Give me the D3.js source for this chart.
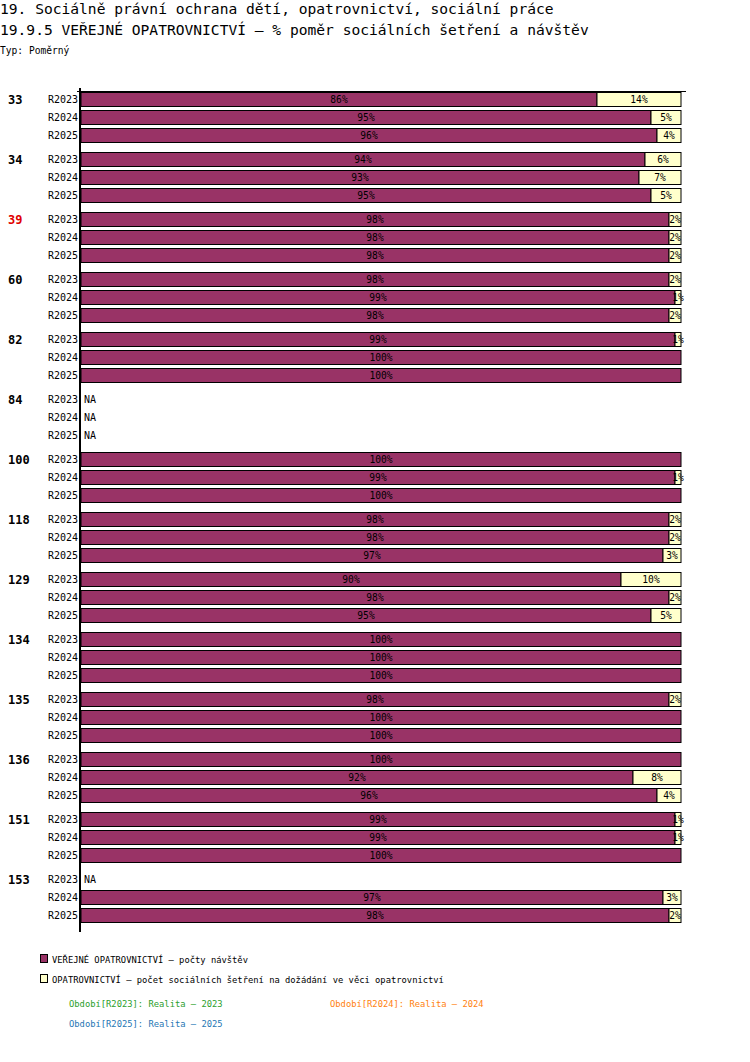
<!DOCTYPE html>
<html>
<head>
<meta charset="utf-8">
<script src="https://cdn.jsdelivr.net/npm/d3@7"></script>
<style>
body { margin: 0; background: #fff; }
text { font-family: "DejaVu Sans Mono", monospace; }
</style>
</head>
<body>
<div id="chart"></div>
<script>
// skupiny (obce) a obdobi
const groups = ["33", "34", "39", "60", "82", "84", "100", "118", "129", "134", "135", "136", "151", "153"];
const periods = ["R2023", "R2024", "R2025"];
const redGroups = ["39"];

// VEŘEJNÉ OPATROVNICTVÍ - počty návštěv (%), null = NA
const navstevy = [
    [86, 95, 96], [94, 93, 95], [98, 98, 98], [98, 99, 98], [99, 100, 100],
    [null, null, null], [100, 99, 100], [98, 98, 97], [90, 98, 95], [100, 100, 100],
    [98, 100, 100], [100, 92, 96], [99, 99, 100], [null, 97, 98]
];
// OPATROVNICTVÍ - počet sociálních šetření (%)
const setreni = [
    [14, 5, 4], [6, 7, 5], [2, 2, 2], [2, 1, 2], [1, 0, 0],
    [null, null, null], [0, 1, 0], [2, 2, 3], [10, 2, 5], [0, 0, 0],
    [2, 0, 0], [0, 8, 4], [1, 1, 0], [null, 3, 2]
];

const seriesNames = ["VEŘEJNÉ OPATROVNICTVÍ – počty návštěv",
    "OPATROVNICTVÍ – počet sociálních šetření na dožádání ve věci opatrovnictví"];
const colors = ["#993366", "#ffffcc"];
const periodLegend = [
    { text: "Období[R2023]: Realita – 2023", color: "#2ca02c" },
    { text: "Období[R2024]: Realita – 2024", color: "#ff7f0e" },
    { text: "Období[R2025]: Realita – 2025", color: "#1f77b4" }
];

const width = 750, height = 1062;
const svg = d3.select("#chart").append("svg")
    .attr("width", width)
    .attr("height", height);

// nadpisy
svg.append("text").attr("x", 0).attr("y", 14).attr("font-size", "14.6px")
    .text("19. Sociálně právní ochrana dětí, opatrovnictví, sociální práce");
svg.append("text").attr("x", 0).attr("y", 35).attr("font-size", "14.6px")
    .text("19.9.5 VEŘEJNÉ OPATROVNICTVÍ – % poměr sociálních šetření a návštěv");
svg.append("text").attr("x", 0).attr("y", 54).attr("font-size", "9.6px")
    .text("Typ: Poměrný");

const x = d3.scaleLinear().domain([0, 100]).range([81, 681]);
const groupY = d3.scaleBand().domain(groups).range([92, 92 + groups.length * 60]);
// krok 18 px, sloupec 15 px
const rowY = d3.scaleBand().domain(periods).range([0, 51]).paddingInner(3 / 18).paddingOuter(0);

// horni linka
svg.append("line").attr("x1", 77).attr("x2", 686).attr("y1", 91.5).attr("y2", 91.5)
    .attr("stroke", "#000").attr("stroke-width", 1);

groups.forEach((g, gi) => {
    const gy = groupY(g);
    svg.append("text")
        .attr("x", 8).attr("y", gy + rowY("R2023") + 12)
        .attr("font-size", "12px").attr("font-weight", "bold")
        .attr("fill", redGroups.includes(g) ? "#e00000" : "#000")
        .text(g);

    periods.forEach((p, pi) => {
        const y0 = gy + rowY(p);
        const h = rowY.bandwidth();
        svg.append("text")
            .attr("x", 78).attr("y", y0 + h / 2 + 3.5)
            .attr("text-anchor", "end").attr("font-size", "10px")
            .text(p);

        const a = navstevy[gi][pi], b = setreni[gi][pi];
        if (a === null) {
            svg.append("text")
                .attr("x", 84).attr("y", y0 + h / 2 + 3.5)
                .attr("font-size", "10px").text("NA");
            return;
        }
        const segs = [[0, a, colors[0]], [a, a + b, colors[1]]];
        segs.forEach(([s, e, c]) => {
            if (e - s <= 0) return;
            svg.append("rect")
                .attr("x", x(s)).attr("y", y0 + 0.5)
                .attr("width", x(e) - x(s)).attr("height", h - 1)
                .attr("fill", c).attr("stroke", "#000").attr("stroke-width", 1);
        });
        segs.forEach(([s, e]) => {
            if (e - s <= 0) return;
            svg.append("text")
                .attr("x", (x(s) + x(e)) / 2).attr("y", y0 + h / 2 + 3.5)
                .attr("text-anchor", "middle").attr("font-size", "9.6px")
                .text(Math.round(e - s) + "%");
        });
    });
});

svg.append("line").attr("x1", 80).attr("x2", 80).attr("y1", 88).attr("y2", 932)
    .attr("stroke", "#000").attr("stroke-width", 2);

// legenda
seriesNames.forEach((n, i) => {
    const ly = 954 + i * 20;
    svg.append("rect").attr("x", 40.5).attr("y", ly + 0.5).attr("width", 7).attr("height", 8)
        .attr("fill", colors[i]).attr("stroke", "#000");
    svg.append("text").attr("x", 52).attr("y", ly + 9).attr("font-size", "8.8px").text(n);
});
periodLegend.forEach((d, i) => {
    svg.append("text")
        .attr("x", i === 1 ? 330 : 69)
        .attr("y", 1007 + (i === 2 ? 20 : 0))
        .attr("font-size", "8.8px").attr("fill", d.color)
        .text(d.text);
});
</script>
</body>
</html>
